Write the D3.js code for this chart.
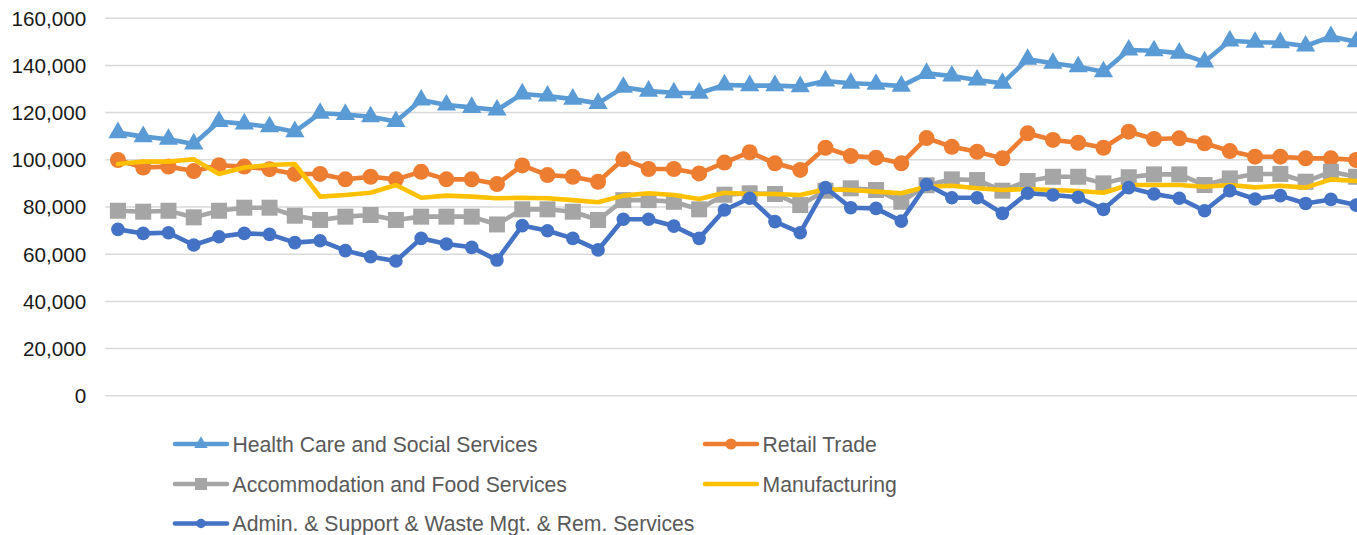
<!DOCTYPE html>
<html>
<head>
<meta charset="utf-8">
<script src="https://cdn.jsdelivr.net/npm/d3@7/dist/d3.min.js"></script>
<style>
  html, body { margin: 0; padding: 0; background: #fff; overflow: hidden; }
  svg { display: block; font-family: "Liberation Sans", Arial, sans-serif; }
</style>
</head>
<body>
<svg id="chart" width="1357" height="535"></svg>
<script>
// ---- data ----
const periods = d3.range(1, 51).map(String);
const yTicks = [0, 20000, 40000, 60000, 80000, 100000, 120000, 140000, 160000];

const seriesNames = [
  "Health Care and Social Services",
  "Retail Trade",
  "Accommodation and Food Services",
  "Manufacturing",
  "Admin. & Support & Waste Mgt. & Rem. Services"
];

const health = [111300,109600,108500,106500,116000,115000,113800,111700,119500,119000,
  118000,116000,125100,123000,122000,120900,127700,126800,125500,123700,
  130500,128900,128200,128000,131500,131200,131200,130800,133200,132200,
  131800,131000,136400,135300,133600,132200,142400,140700,139200,137100,
  146300,146000,145000,141300,150200,149600,149400,148000,152000,149800];

const retail = [99700,96500,96900,95000,97500,96900,95800,93800,93800,91500,
  92600,91500,94700,91500,91500,89500,97400,93300,92600,90500,
  100000,95900,95900,94000,98600,103000,98300,95500,104900,101400,
  100700,98300,109000,105300,103200,100400,111000,108200,107000,104900,
  111700,108600,108900,106800,103500,101100,101100,100400,100400,99700];

const accommodation = [78200,77800,78200,75400,78200,79500,79500,76100,74300,75700,
  76400,74300,75700,75700,75700,72400,78800,78800,77800,74300,
  82700,82700,82000,78800,85000,85600,85300,80600,86700,87700,
  87000,82000,89000,91500,91200,86700,90800,92600,92600,89800,
  92400,93600,93600,89100,91900,93800,93800,90500,94700,92600];

const manufacturing = [98000,99000,99000,100000,93800,96500,97600,98000,84200,84900,
  85800,89100,83700,84600,84200,83500,83700,83500,82700,81800,
  84600,85600,84900,83200,85800,85300,85300,84900,87300,87000,
  86300,85600,88400,88800,87700,87000,87400,87000,86600,85800,
  89100,89100,89100,88400,89100,88100,88800,88000,91500,90800];

const admin = [70300,68600,68900,63700,67200,68600,68200,64700,65500,61300,
  58700,56900,66500,64100,62700,57300,71900,69700,66500,61600,
  74600,74600,71700,66500,78500,83500,73600,68900,88000,79500,
  79200,73800,89300,83700,83700,77100,85600,84900,83900,78800,
  88000,85300,83500,78200,86700,83200,84600,81300,83000,80600];

// ---- styles ----
const colors = ["#5B9BD5", "#ED7D31", "#A5A5A5", "#FFC000", "#4472C4"];
const markers = ["triangle", "circle", "square", "none", "circleSmall"];
const values = [health, retail, accommodation, manufacturing, admin];

const svg = d3.select("#chart");
const plotLeft = 105.3, step = 25.27, plotTop = 17.7, plotBottom = 395.3;

const x = d3.scaleBand()
  .domain(periods)
  .range([plotLeft, plotLeft + step * periods.length])
  .paddingInner(0).paddingOuter(0);
const cx = d => x(d) + x.bandwidth() / 2;

const y = d3.scaleLinear().domain([0, 160000]).range([plotBottom, plotTop]);

// gridlines
const yAxis = d3.axisLeft(y)
  .tickValues(yTicks)
  .tickSize(-(1400 - plotLeft))
  .tickPadding(19)
  .tickFormat(d3.format(","));
const gAxis = svg.append("g")
  .attr("transform", `translate(${plotLeft},0)`)
  .call(yAxis);
gAxis.select(".domain").remove();
gAxis.selectAll(".tick line").attr("stroke", "#D9D9D9").attr("stroke-width", 1.5);
gAxis.selectAll(".tick text")
  .attr("fill", "#1a1a1a")
  .style("font-size", "20.7px")
  .attr("dy", "0.36em");

// series
const line = d3.line().x((d, i) => cx(periods[i])).y(d => y(d));

function drawMarker(g, type, color, px, py, scale) {
  const s = scale || 1;
  if (type === "triangle") {
    g.append("path")
      .attr("d", d3.symbol().type(d3.symbolTriangle).size(160 * s * s)())
      .attr("transform", `translate(${px},${py})`)
      .attr("fill", color);
  } else if (type === "circle") {
    g.append("circle").attr("cx", px).attr("cy", py).attr("r", 8 * s).attr("fill", color);
  } else if (type === "circleSmall") {
    g.append("circle").attr("cx", px).attr("cy", py).attr("r", 6.8 * s).attr("fill", color);
  } else if (type === "square") {
    const w = 16 * s;
    g.append("rect").attr("x", px - w / 2).attr("y", py - w / 2)
      .attr("width", w).attr("height", w).attr("fill", color);
  }
}

values.forEach((vals, si) => {
  const g = svg.append("g");
  g.append("path")
    .datum(vals)
    .attr("d", line)
    .attr("fill", "none")
    .attr("stroke", colors[si])
    .attr("stroke-width", 4.6)
    .attr("stroke-linejoin", "round")
    .attr("stroke-linecap", "round");
  vals.forEach((v, i) => drawMarker(g, markers[si], colors[si], cx(periods[i]), y(v)));
});

// legend
const legendPos = [
  [173, 444], [703, 444],
  [173, 484], [703, 484],
  [173, 523.5]
];
legendPos.forEach(([lx, ly], si) => {
  const g = svg.append("g");
  g.append("line")
    .attr("x1", lx + 2).attr("x2", lx + 54)
    .attr("y1", ly).attr("y2", ly)
    .attr("stroke", colors[si]).attr("stroke-width", 4.6)
    .attr("stroke-linecap", "round");
  drawMarker(g, markers[si], colors[si], lx + 28, ly, markers[si] === "square" ? 0.75 : 0.7);
  g.append("text")
    .attr("x", lx + 59.5).attr("y", ly)
    .attr("dy", "0.36em")
    .attr("fill", "#595959")
    .style("font-size", "21.2px")
    .text(seriesNames[si]);
});
</script>
</body>
</html>
